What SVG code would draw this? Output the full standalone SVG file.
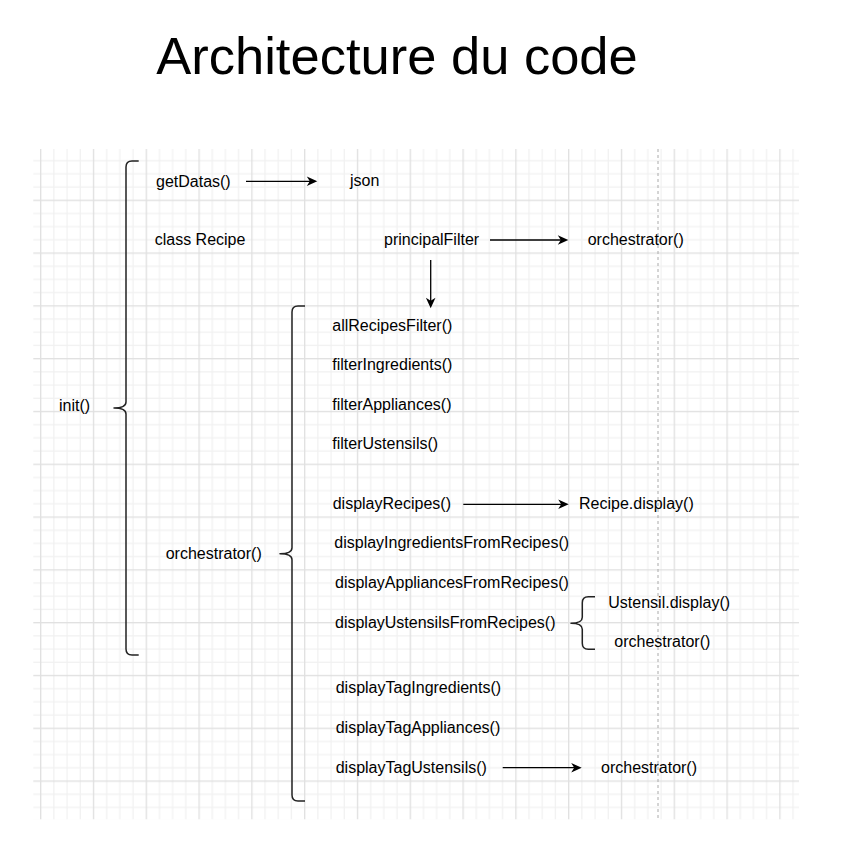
<svg xmlns="http://www.w3.org/2000/svg" width="850" height="864" viewBox="0 0 850 864">
<style>
  .t { font-family: "Liberation Sans", Arial, Helvetica, sans-serif; font-size: 16px; fill: #000; }
  .title { font-family: "Liberation Sans", Arial, Helvetica, sans-serif; font-size: 52.5px; fill: #000; }
  .brace { fill: none; stroke: #222; stroke-width: 1.5; stroke-linejoin: round; }
  .conn { fill: none; stroke: #000; stroke-width: 1.3; marker-end: url(#arr); }
</style>
<defs>
  <pattern id="grid" patternUnits="userSpaceOnUse" x="40.05" y="146.85" width="52.8" height="52.8">
    <rect x="0" y="0" width="52.8" height="52.8" fill="#fff"/>
    <rect x="13.2" y="0" width="1.2" height="52.8" fill="#f1f1f1"/>
    <rect x="26.4" y="0" width="1.2" height="52.8" fill="#f1f1f1"/>
    <rect x="39.6" y="0" width="1.2" height="52.8" fill="#f1f1f1"/>
    <rect x="0" y="13.2" width="52.8" height="1.2" fill="#f1f1f1"/>
    <rect x="0" y="26.4" width="52.8" height="1.2" fill="#f1f1f1"/>
    <rect x="0" y="39.6" width="52.8" height="1.2" fill="#f1f1f1"/>
    <rect x="0" y="0" width="1.3" height="52.8" fill="#e0e0e0"/>
    <rect x="0" y="0" width="52.8" height="1.3" fill="#e0e0e0"/>
  </pattern>
  <marker id="arr" viewBox="-12 -6 14 12" refX="-7" refY="0" markerWidth="14" markerHeight="12" markerUnits="userSpaceOnUse" orient="auto">
    <path d="M0,0 L-10.5,-4.8 L-7.5,0 L-10.5,4.8 Z" fill="#000"/>
  </marker>
</defs>
<rect width="850" height="864" fill="#fff"/>
<rect x="33.3" y="149" width="765.7" height="670.3" fill="url(#grid)"/>
<line x1="658" y1="149" x2="658" y2="819" stroke="#aaa" stroke-width="1" stroke-dasharray="3 3"/>

<text class="title" x="397" y="74" text-anchor="middle">Architecture du code</text>

<g id="brace-init"><path class="brace" d="M138.7,161 L132,161 Q126,161 126,167 L126,402 Q126,408 114,408 Q126,408 126,414 L126,649 Q126,655 132,655 L138.7,655"/></g>
<g id="brace-orchestrator"><path class="brace" d="M305,306 L298,306 Q292,306 292,312 L292,547.7 Q292,553.7 280,553.7 Q292,553.7 292,559.7 L292,795 Q292,801 298,801 L305,801"/></g>
<g id="brace-ustensils"><path class="brace" d="M595,596.7 L588.3,596.7 Q582.3,596.7 582.3,602.7 L582.3,617.3 Q582.3,623.3 571,623.3 Q582.3,623.3 582.3,629.3 L582.3,643.3 Q582.3,649.3 588.3,649.3 L595,649.3"/></g>

<g id="n-init"><text class="t" x="59" y="410.7">init()</text></g>
<g id="n-getDatas"><text class="t" x="156" y="186.7">getDatas()</text></g>
<g id="n-json"><text class="t" x="350" y="186.3">json</text></g>
<g id="n-classRecipe"><text class="t" x="154.7" y="245.3">class Recipe</text></g>
<g id="n-principalFilter"><text class="t" x="384" y="245.3">principalFilter</text></g>
<g id="n-orchestrator-top"><text class="t" x="587.7" y="245.3">orchestrator()</text></g>
<g id="n-orchestrator-main"><text class="t" x="165.7" y="559.3">orchestrator()</text></g>
<g id="n-allRecipesFilter"><text class="t" x="332.3" y="330.7">allRecipesFilter()</text></g>
<g id="n-filterIngredients"><text class="t" x="332.3" y="370">filterIngredients()</text></g>
<g id="n-filterAppliances"><text class="t" x="332.3" y="410">filterAppliances()</text></g>
<g id="n-filterUstensils"><text class="t" x="332.3" y="449.3">filterUstensils()</text></g>
<g id="n-displayRecipes"><text class="t" x="332.7" y="509.3">displayRecipes()</text></g>
<g id="n-recipeDisplay"><text class="t" x="579" y="509.3">Recipe.display()</text></g>
<g id="n-displayIngredientsFromRecipes"><text class="t" x="334.3" y="548.3">displayIngredientsFromRecipes()</text></g>
<g id="n-displayAppliancesFromRecipes"><text class="t" x="335" y="588">displayAppliancesFromRecipes()</text></g>
<g id="n-displayUstensilsFromRecipes"><text class="t" x="335" y="627.7">displayUstensilsFromRecipes()</text></g>
<g id="n-ustensilDisplay"><text class="t" x="608.3" y="607.7">Ustensil.display()</text></g>
<g id="n-orchestrator-ust"><text class="t" x="614.3" y="646.7">orchestrator()</text></g>
<g id="n-displayTagIngredients"><text class="t" x="335.7" y="693.3">displayTagIngredients()</text></g>
<g id="n-displayTagAppliances"><text class="t" x="335.7" y="733.3">displayTagAppliances()</text></g>
<g id="n-displayTagUstensils"><text class="t" x="335.7" y="772.7">displayTagUstensils()</text></g>
<g id="n-orchestrator-tag"><text class="t" x="601" y="772.7">orchestrator()</text></g>

<g id="connectors">
  <path class="conn" d="M246,181.3 L310.3,181.3"/>
  <path class="conn" d="M490,240 L561.3,240"/>
  <path class="conn" d="M430.7,260 L430.7,301.3"/>
  <path class="conn" d="M463.3,504.3 L561.7,504.3"/>
  <path class="conn" d="M502.7,767.7 L574.7,767.7"/>
</g>
</svg>
